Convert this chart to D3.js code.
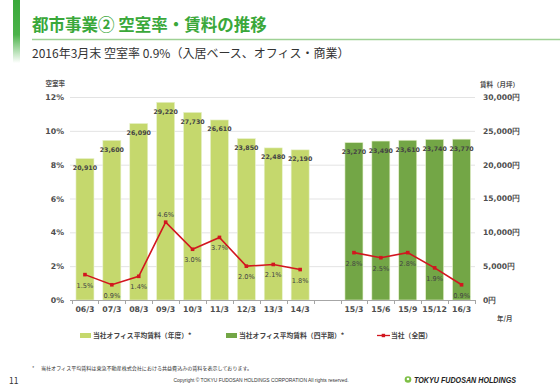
<!DOCTYPE html>
<html><head><meta charset="utf-8">
<script src="https://cdn.jsdelivr.net/npm/d3@7"></script>
<style>
html,body{margin:0;padding:0;background:#fff;}
svg{display:block;font-family:"Noto Sans CJK JP","Noto Sans",sans-serif;}
</style></head>
<body>
<svg id="c" width="560" height="388"></svg>
<script>
const categories = ["06/3","07/3","08/3","09/3","10/3","11/3","12/3","13/3","14/3","","15/3","15/6","15/9","15/12","16/3"];
const annualRent = [20910,23600,26090,29220,27730,26610,23850,22480,22190,null,null,null,null,null,null];
const quarterRent = [null,null,null,null,null,null,null,null,null,null,23270,23490,23610,23740,23770];
const vacancy = [1.5,0.9,1.4,4.6,3.0,3.7,2.0,2.1,1.8,null,2.8,2.5,2.8,1.9,0.9];
const vacancyLabelAbove = [false,false,false,true,false,false,false,false,false,false,false,false,false,false,false];
const leftTicks = [0,2,4,6,8,10,12];
const rightTicks = [0,5000,10000,15000,20000,25000,30000];
const legendLabels = ["当社オフィス平均賃料（年度）*","当社オフィス平均賃料（四半期）*","当社（全国）"];

const C_LIGHT = "#c5d86d", C_DARK = "#73a646", C_RED = "#d2161f", C_TXT = "#4d4d4d";
const NUMF = "'DejaVu Sans',Verdana,sans-serif";
const svg = d3.select("#c");

// header
const defs = svg.append("defs");
const lg = defs.append("linearGradient").attr("id","gb").attr("x1",0).attr("x2",0).attr("y1",0).attr("y2",1);
lg.append("stop").attr("offset","0").attr("stop-color","#3aa83a");
lg.append("stop").attr("offset","0.55").attr("stop-color","#4cb34a");
lg.append("stop").attr("offset","1").attr("stop-color","#ffffff");
svg.append("rect").attr("x",13).attr("y",0).attr("width",7).attr("height",63).attr("fill","url(#gb)");
svg.append("text").attr("x",32).attr("y",31).attr("font-size",16.5).attr("font-weight","bold")
  .attr("fill","#3aa83a").text("都市事業② 空室率・賃料の推移");
svg.append("line").attr("x1",32).attr("x2",560).attr("y1",39.5).attr("y2",39.5)
  .attr("stroke","#9fd195").attr("stroke-width",1.5);
svg.append("text").attr("x",32).attr("y",57.5).attr("font-size",12).attr("fill","#333")
  .text("2016年3月末 空室率 0.9%（入居ベース、オフィス・商業）");

// scales
const x = d3.scaleBand().domain(d3.range(categories.length)).range([71.5,475]).paddingInner(0.33).paddingOuter(0.165);
const yL = d3.scaleLinear().domain([0,12]).range([300,97]);
const yR = d3.scaleLinear().domain([0,30000]).range([300,97]);

// gridlines
svg.append("g").selectAll("line").data(leftTicks.slice(1)).join("line")
  .attr("x1",70).attr("x2",475).attr("y1",d=>yL(d)+0.5).attr("y2",d=>yL(d)+0.5)
  .attr("stroke","#e3e3e3").attr("stroke-width",1);

// left axis
const axL = d3.axisLeft(yL).tickValues(leftTicks).tickFormat(d=>d+"%").tickSize(0).tickPadding(0);
const gL = svg.append("g").attr("transform","translate(64,0)").call(axL);
gL.select(".domain").remove();
gL.selectAll("text").attr("font-size",7.8).attr("fill",C_TXT).attr("font-weight","bold").attr("font-family",NUMF);
svg.append("text").attr("x",65).attr("y",86).attr("text-anchor","end").attr("font-size",6.5).attr("font-weight","bold").attr("fill",C_TXT).text("空室率");

// right axis
const axR = d3.axisRight(yR).tickValues(rightTicks).tickFormat(d=>d3.format(",")(d)+"円").tickSize(0).tickPadding(0);
const gR = svg.append("g").attr("transform","translate(483,0)").call(axR);
gR.select(".domain").remove();
gR.selectAll("text").attr("font-size",7.6).attr("fill",C_TXT).attr("font-weight","bold").attr("font-family",NUMF);
svg.append("text").attr("x",480).attr("y",86.5).attr("font-size",6.5).attr("font-weight","bold").attr("fill",C_TXT).text("賃料（月坪）");
svg.append("text").attr("x",497).attr("y",321).attr("font-size",6.5).attr("font-weight","bold").attr("fill",C_TXT).text("年/月");

// bars
function bars(data, color){
  const g = svg.append("g");
  const d2 = data.map((v,i)=>({v,i})).filter(d=>d.v!=null);
  g.selectAll("rect").data(d2).join("rect")
    .attr("x",d=>x(d.i)).attr("width",x.bandwidth())
    .attr("y",d=>yR(d.v)).attr("height",d=>300-yR(d.v))
    .attr("fill",color).attr("stroke","#e8f2cf").attr("stroke-width",0.6);
  g.selectAll("text").data(d2).join("text")
    .attr("x",d=>x(d.i)+x.bandwidth()/2).attr("y",d=>yR(d.v)+11.5)
    .attr("text-anchor","middle").attr("font-size",6.3).attr("font-weight","bold")
    .attr("font-family",NUMF).attr("fill","#444")
    .text(d=>d3.format(",")(d.v));
}
bars(annualRent, C_LIGHT);
bars(quarterRent, C_DARK);

// x axis
const axB = d3.axisBottom(x).tickFormat(i=>categories[i]).tickSize(0).tickPadding(6);
const gB = svg.append("g").attr("transform","translate(0,300)").call(axB);
gB.select(".domain").attr("stroke","#a6a6a6").attr("d","M70,0.5H475");
gB.selectAll("text").attr("font-size",7.8).attr("fill",C_TXT).attr("font-weight","bold").attr("font-family",NUMF);
// boundary ticks
const bounds = d3.range(categories.length+1).map(i=> i<categories.length ? x(i)-x.step()*x.paddingInner()/2 : 475);
svg.append("g").selectAll("line").data(bounds).join("line")
  .attr("x1",d=>Math.round(d)+0.5).attr("x2",d=>Math.round(d)+0.5).attr("y1",300).attr("y2",304)
  .attr("stroke","#a6a6a6");

// vacancy line
const pts = vacancy.map((v,i)=>({v,i}));
const line = d3.line().defined(d=>d.v!=null).x(d=>x(d.i)+x.bandwidth()/2).y(d=>yL(d.v));
svg.append("path").datum(pts).attr("d",line).attr("fill","none").attr("stroke",C_RED).attr("stroke-width",1.6);
const pd = pts.filter(d=>d.v!=null);
svg.append("g").selectAll("rect").data(pd).join("rect")
  .attr("x",d=>x(d.i)+x.bandwidth()/2-1.8).attr("y",d=>yL(d.v)-1.8).attr("width",3.6).attr("height",3.6)
  .attr("fill",C_RED);
svg.append("g").selectAll("text").data(pd).join("text")
  .attr("x",d=>x(d.i)+x.bandwidth()/2).attr("y",d=>vacancyLabelAbove[d.i]? yL(d.v)-5 : yL(d.v)+13)
  .attr("text-anchor","middle").attr("font-size",6.6).attr("font-family",NUMF)
  .attr("fill","#444").text(d=>d.v.toFixed(1)+"%");

// legend
const lgY = 335.5;
svg.append("rect").attr("x",80).attr("y",lgY-2.5).attr("width",11).attr("height",5).attr("fill",C_LIGHT);
svg.append("text").attr("x",93).attr("y",lgY+2.5).attr("font-size",6.8).attr("font-weight","bold").attr("fill","#444").text(legendLabels[0]);
svg.append("rect").attr("x",226).attr("y",lgY-2.5).attr("width",11).attr("height",5).attr("fill",C_DARK);
svg.append("text").attr("x",239).attr("y",lgY+2.5).attr("font-size",6.8).attr("font-weight","bold").attr("fill","#444").text(legendLabels[1]);
svg.append("line").attr("x1",377).attr("x2",390).attr("y1",lgY).attr("y2",lgY).attr("stroke",C_RED).attr("stroke-width",1.3);
svg.append("rect").attr("x",381.7).attr("y",lgY-1.7).attr("width",3.4).attr("height",3.4).attr("fill",C_RED);
svg.append("text").attr("x",391).attr("y",lgY+2.5).attr("font-size",6.8).attr("font-weight","bold").attr("fill","#444").text(legendLabels[2]);

// footnotes
svg.append("text").attr("x",32).attr("y",369.5).attr("font-size",5.2).attr("fill","#333").text("*");
svg.append("text").attr("x",41).attr("y",369.5).attr("font-size",5.05).attr("fill","#333")
  .text("当社オフィス平均賃料は東急不動産株式会社における共益費込みの賃料を表示しております。");
svg.append("text").attr("x",9).attr("y",383.5).attr("font-size",8.5).attr("fill","#333").text("11");
svg.append("text").attr("x",261).attr("y",382).attr("text-anchor","middle").attr("font-size",4.9).attr("fill","#333")
  .attr("font-family","'Liberation Sans Narrow','Liberation Sans',sans-serif")
  .text("Copyright © TOKYU FUDOSAN HOLDINGS CORPORATION All rights reserved.");
svg.append("circle").attr("cx",408).attr("cy",379.5).attr("r",3.3).attr("fill","#7dbf45");
svg.append("circle").attr("cx",408).attr("cy",379).attr("r",1.3).attr("fill","#fff");
svg.append("text").attr("x",414).attr("y",383).attr("font-size",8.3).attr("font-weight","bold").attr("font-style","italic")
  .attr("fill","#222").attr("font-family","'Liberation Sans','DejaVu Sans',sans-serif").attr("textLength",102).attr("lengthAdjust","spacingAndGlyphs")
  .text("TOKYU FUDOSAN HOLDINGS");
</script>
</body></html>
